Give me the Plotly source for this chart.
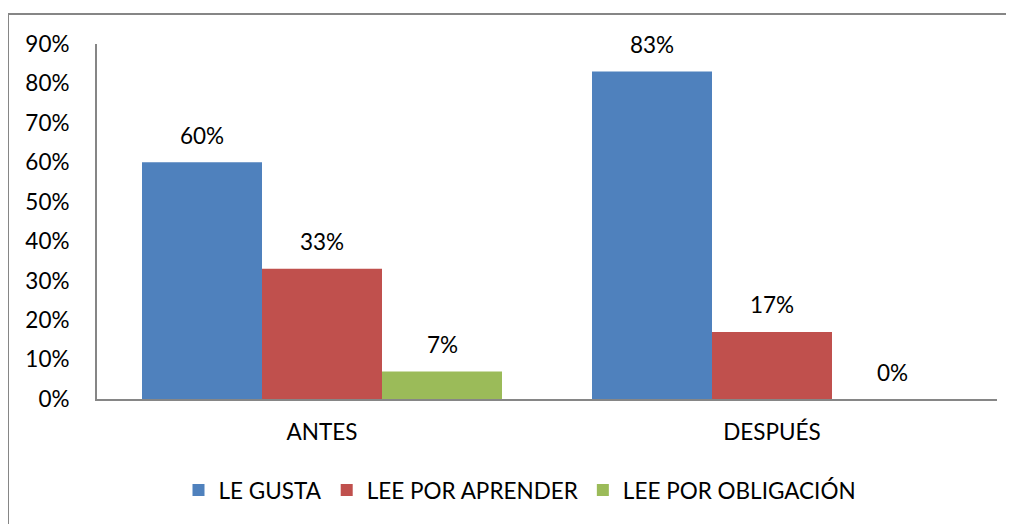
import plotly.graph_objects as go

categories = ["ANTES", "DESPUÉS"]
series_names = ["LE GUSTA", "LEE POR APRENDER", "LEE POR OBLIGACIÓN"]
le_gusta = [0.60, 0.83]
lee_por_aprender = [0.33, 0.17]
lee_por_obligacion = [0.07, 0.00]
colors = ["#4F81BD", "#C0504D", "#9BBB59"]
tick_vals = [0, 0.1, 0.2, 0.3, 0.4, 0.5, 0.6, 0.7, 0.8, 0.9]
tick_text = ["0%", "10%", "20%", "30%", "40%", "50%", "60%", "70%", "80%", "90%"]

FONT = "Lato, Open Sans, sans-serif"
FS = 22.5

fig = go.Figure()
annotations = []
all_series = [le_gusta, lee_por_aprender, lee_por_obligacion]
for i, (name, vals, col) in enumerate(zip(series_names, all_series, colors)):
    fig.add_trace(go.Bar(
        x=categories, y=vals, name=name, marker_color=col,
        marker_line_width=0,
    ))
    for cat, v in zip(categories, vals):
        annotations.append(dict(
            x=cat, y=v, xref="x", yref="y", text=f"{round(v*100)}%",
            showarrow=False, xanchor="center", yanchor="middle",
            xshift=(i - 1) * 120, yshift=27,
            font=dict(size=FS, color="#000000", family=FONT),
        ))

fig.update_layout(
    width=1014, height=524,
    margin=dict(l=89, r=25, t=36, b=133),
    paper_bgcolor="white", plot_bgcolor="white",
    barmode="group", bargap=0.2, bargroupgap=0,
    font=dict(family=FONT, size=FS, color="#000000"),
    showlegend=True,
    legend=dict(orientation="h", x=0.47, xanchor="center", y=-0.197, yanchor="top",
                font=dict(size=FS, family=FONT), traceorder="normal"),
    xaxis=dict(showline=True, linecolor="#868686", linewidth=2, ticks="",
               showgrid=False, tickfont=dict(size=FS), ticklabelstandoff=12),
    yaxis=dict(range=[0, 0.9], tickvals=tick_vals, ticktext=tick_text,
               showline=True, linecolor="#868686", linewidth=2, showgrid=False,
               ticks="", zeroline=False, tickfont=dict(size=FS), ticklabelstandoff=21),
    annotations=annotations,
    shapes=[dict(type="rect", xref="paper", yref="paper",
                 x0=(8 - 97) / 900, x1=1.1, y0=-0.6, y1=(399 - 14) / 355,
                 line=dict(color="#868686", width=2), fillcolor="rgba(0,0,0,0)", layer="below")],
)

fig.write_html("out.html")
